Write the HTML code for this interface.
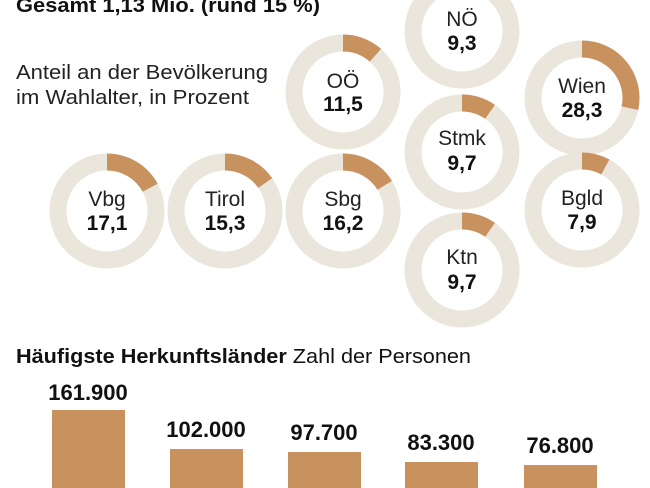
<!DOCTYPE html>
<html><head><meta charset="utf-8"><style>
html,body{margin:0;padding:0;background:#fff;}
svg{display:block;font-family:"Liberation Sans",sans-serif;}
.g{fill:none;stroke:#ebe6dc;stroke-width:17}
.o{fill:none;stroke:#c8925f;stroke-width:17}
.n{font-size:21px;fill:#222;text-anchor:middle}
.v{font-size:21px;font-weight:bold;fill:#111;text-anchor:middle}
</style></head><body>
<svg width="650" height="488" viewBox="0 0 650 488" xmlns="http://www.w3.org/2000/svg">
<text x="16" y="12" font-size="20" font-weight="bold" fill="#111" textLength="304" lengthAdjust="spacingAndGlyphs">Gesamt 1,13 Mio. (rund 15 %)</text>
<text x="16" y="79" font-size="20" fill="#222" textLength="252" lengthAdjust="spacingAndGlyphs">Anteil an der Bevölkerung</text>
<text x="16" y="104" font-size="20" fill="#222" textLength="233" lengthAdjust="spacingAndGlyphs">im Wahlalter, in Prozent</text>

<circle class="g" cx="462" cy="31" r="49"/><circle class="o" cx="462" cy="31" r="49" stroke-dasharray="28.63 400" transform="rotate(-90 462 31)"/>
<text class="n" x="462" y="26">NÖ</text><text class="v" x="462" y="50">9,3</text>

<circle class="g" cx="343" cy="92" r="49"/><circle class="o" cx="343" cy="92" r="49" stroke-dasharray="35.41 400" transform="rotate(-90 343 92)"/>
<text class="n" x="343" y="88">OÖ</text><text class="v" x="343" y="111">11,5</text>

<circle class="g" cx="582" cy="98" r="49"/><circle class="o" cx="582" cy="98" r="49" stroke-dasharray="87.13 400" transform="rotate(-90 582 98)"/>
<text class="n" x="582" y="93">Wien</text><text class="v" x="582" y="117">28,3</text>

<circle class="g" cx="462" cy="152" r="49"/><circle class="o" cx="462" cy="152" r="49" stroke-dasharray="29.86 400" transform="rotate(-90 462 152)"/>
<text class="n" x="462" y="145">Stmk</text><text class="v" x="462" y="170">9,7</text>

<circle class="g" cx="107" cy="211" r="49"/><circle class="o" cx="107" cy="211" r="49" stroke-dasharray="52.65 400" transform="rotate(-90 107 211)"/>
<text class="n" x="107" y="206">Vbg</text><text class="v" x="107" y="230">17,1</text>

<circle class="g" cx="225" cy="211" r="49"/><circle class="o" cx="225" cy="211" r="49" stroke-dasharray="47.11 400" transform="rotate(-90 225 211)"/>
<text class="n" x="225" y="206">Tirol</text><text class="v" x="225" y="230">15,3</text>

<circle class="g" cx="343" cy="211" r="49"/><circle class="o" cx="343" cy="211" r="49" stroke-dasharray="49.88 400" transform="rotate(-90 343 211)"/>
<text class="n" x="343" y="206">Sbg</text><text class="v" x="343" y="230">16,2</text>

<circle class="g" cx="582" cy="210" r="49"/><circle class="o" cx="582" cy="210" r="49" stroke-dasharray="24.32 400" transform="rotate(-90 582 210)"/>
<text class="n" x="582" y="205">Bgld</text><text class="v" x="582" y="229">7,9</text>

<circle class="g" cx="462" cy="270" r="49"/><circle class="o" cx="462" cy="270" r="49" stroke-dasharray="29.86 400" transform="rotate(-90 462 270)"/>
<text class="n" x="462" y="264">Ktn</text><text class="v" x="462" y="289">9,7</text>

<text x="16" y="363" font-size="20" fill="#111" textLength="455" lengthAdjust="spacingAndGlyphs"><tspan font-weight="bold">Häufigste Herkunftsländer</tspan> Zahl der Personen</text>
<g fill="#c8925f">
<rect x="52" y="410" width="73" height="78"/>
<rect x="170" y="449" width="73" height="39"/>
<rect x="288" y="452" width="73" height="36"/>
<rect x="405" y="462" width="73" height="26"/>
<rect x="524" y="465" width="73" height="23"/>
</g>
<g font-size="22" font-weight="bold" fill="#111" text-anchor="middle">
<text x="88" y="400">161.900</text>
<text x="206" y="437">102.000</text>
<text x="324" y="440">97.700</text>
<text x="441" y="450">83.300</text>
<text x="560" y="453">76.800</text>
</g>
</svg>
</body></html>
